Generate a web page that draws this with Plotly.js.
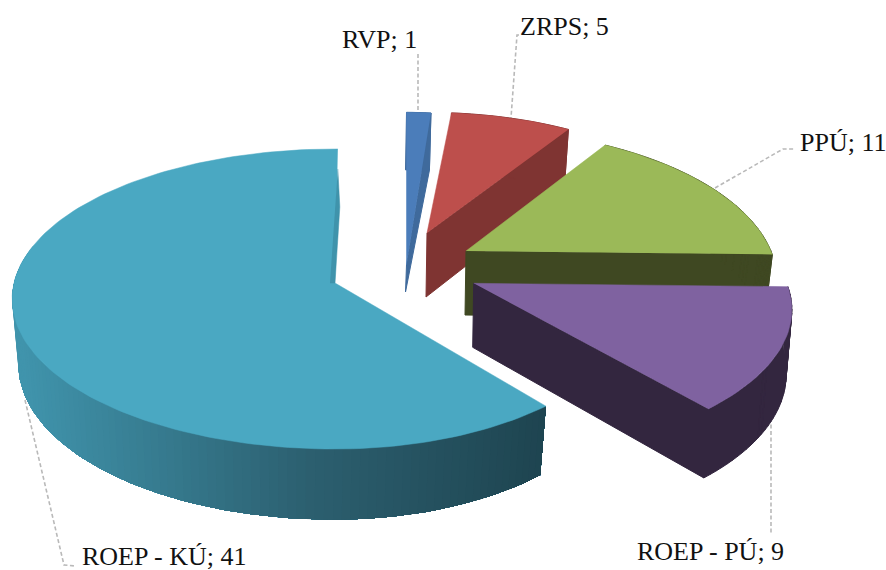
<!DOCTYPE html>
<html>
<head>
<meta charset="utf-8">
<script src="https://cdn.plot.ly/plotly-3.0.1.min.js"></script>
<style>html,body{margin:0;padding:0;background:#fff}#c{width:886px;height:570px}</style>
</head>
<body>
<div id="c"></div>
<script>
// Data
const categories = ["RVP", "ZRPS", "PPÚ", "ROEP - PÚ", "ROEP - KÚ"];
const values = [1, 5, 11, 9, 41];

// Colours
const topColors = ["#4b7dba", "#bd4f4c", "#9bb958", "#7f62a0", "#4aa8c2"];
const wallColors = ["#3f6a9c", "#7f3432", "#3f4822", "#33263f", "#1f4550"];
const gradientStops = [[20, [64,148,172]], [300, [44,96,112]], [546, [30,68,80]]];

// Exploded-slice placement and projection
const pivotX = [406.5, 427, 466, 473.7, 335];
const pivotY = [265, 233, 251, 283.3, 283];
const scaleX = [0.9, 0.9, 0.95, 0.975, 1];
const scaleRight = [1, 1, 1, 1, 0.933];
const scaleY = [1.139, 0.9, 0.987, 0.958, 1];
const perspective = [0.1067, 0.1067, 0.2, 0.18, 0.1067];
const endNudge = [0, 0, 0, 0, 0.6];
const wallDepth = [27, 64, 64, 64, 64];
const wallScaleX = [0.978, 0.978, 0.978, 0.985, 0.978];
const wallScaleY = [0.8, 1.04, 1.04, 1.04, 1.04];
const RX = 321, RY = 148.3;

// Leader lines and label placement
const leaderX = [[418,418],[519,517,511],[715,783,795],[771,771],[25,64,75]];
const leaderY = [[54,112],[35,35,118],[188,149,149],[418,535],[400,565,566]];
const labelX = [379.5, 564.5, 842.5, 710.5, 164];
const labelY = [39, 26, 142, 551, 556];

const total = values.reduce((a, b) => a + b, 0);
function topPoint(i, deg) {
  const t = deg * Math.PI / 180, u = Math.sin(t), v = Math.cos(t);
  const s = 1 / (1 + perspective[i] * v);
  let dx = RX * scaleX[i] * u * s;
  if (dx > 0) dx *= scaleRight[i];
  return [dx, -RY * scaleY[i] * v * s];
}
const T = (i, p) => [pivotX[i] + p[0], pivotY[i] + p[1]];
const B = (i, p) => [pivotX[i] - 1 + p[0] * wallScaleX[i], pivotY[i] + wallDepth[i] + p[1] * wallScaleY[i]];
function poly(pts, color, lw) {
  return {
    type: "scatter", mode: "lines", fill: "toself", fillcolor: color,
    x: pts.map(p => p ? p[0] : null), y: pts.map(p => p ? p[1] : null),
    line: {color: color, width: lw === undefined ? 0.5 : lw},
    connectgaps: false, hoverinfo: "skip", showlegend: false
  };
}
function arc(a, b) {
  const out = [], n = Math.max(2, Math.ceil(Math.abs(b - a) / 1.5));
  for (let j = 0; j <= n; j++) out.push(a + (b - a) * j / n);
  return out;
}
function gradient(x) {
  let st = gradientStops;
  if (x <= st[0][0]) return st[0][1];
  for (let j = 1; j < st.length; j++) {
    if (x <= st[j][0]) {
      const f = (x - st[j-1][0]) / (st[j][0] - st[j-1][0]);
      return st[j-1][1].map((c, k) => c + (st[j][1][k] - c) * f);
    }
  }
  return st[st.length - 1][1];
}
const rgb = c => "rgb(" + c.map(Math.round).join(",") + ")";

const traces = [];
leaderX.forEach((lx, i) => traces.push({
  type: "scatter", mode: "lines", x: lx, y: leaderY[i],
  line: {color: "#b9b9b9", width: 1.6, dash: "4px,2.5px"},
  hoverinfo: "skip", showlegend: false
}));

let acc = 0;
const ranges = values.map((v, i) => {
  const a = acc / total * 360;
  acc += v;
  return [a, acc / total * 360 + endNudge[i]];
});

// draw back to front
[0, 1, 2, 4, 3].forEach(i => {
  const [a, b] = ranges[i];
  if (i === 4) {
    // outer wall shaded left to right: each layer reaches the right end, so no seams
    const ds = arc(285, a);
    for (let j = 0; j < ds.length - 1; j++) {
      const rest = ds.slice(j);
      const top = rest.map(d => T(i, topPoint(i, d)));
      const bot = rest.map(d => B(i, topPoint(i, d))).reverse();
      traces.push(poly(top.concat(bot), rgb(gradient(top[0][0])), 0));
    }
  } else {
    // extruded outer wall as one trace of small quads, plus the cut wall
    const ds = arc(a, b);
    let pts = [];
    for (let j = 0; j < ds.length - 1; j++) {
      const p = topPoint(i, ds[j]), q = topPoint(i, ds[j + 1]);
      pts = pts.concat([T(i, p), T(i, q), B(i, q), B(i, p), T(i, p), null]);
    }
    const e = topPoint(i, b);
    pts = pts.concat([T(i, [0, 0]), T(i, e), B(i, e), B(i, [0, 0]), T(i, [0, 0])]);
    traces.push(poly(pts, wallColors[i], 1));
  }
  const face = [T(i, [0, 0])].concat(arc(a, b).map(d => T(i, topPoint(i, d))));
  traces.push(poly(face, topColors[i]));
  if (i === 4) {
    // inner wall sliver along the closing radius
    const c = T(i, topPoint(i, b)), o = T(i, [0, 0]);
    traces.push(poly([[c[0], c[1] + 20], [c[0] + 2, c[1] + 58], o, [o[0] - 5, o[1]]], "#3f93ab"));
  }
});

const annotations = categories.map((c, i) => ({
  x: labelX[i], y: labelY[i], xref: "x", yref: "y",
  text: c + "; " + values[i], showarrow: false,
  xanchor: "center", yanchor: "middle",
  font: {family: "Liberation Serif, serif", size: 26, color: "#111"}
}));

Plotly.newPlot("c", traces, {
  width: 886, height: 570,
  margin: {l: 0, r: 0, t: 0, b: 0, pad: 0},
  paper_bgcolor: "#fff", plot_bgcolor: "#fff",
  xaxis: {range: [0, 886], visible: false, fixedrange: true},
  yaxis: {range: [570, 0], visible: false, fixedrange: true},
  showlegend: false, annotations: annotations
}, {displayModeBar: false, staticPlot: true});
</script>
</body>
</html>
